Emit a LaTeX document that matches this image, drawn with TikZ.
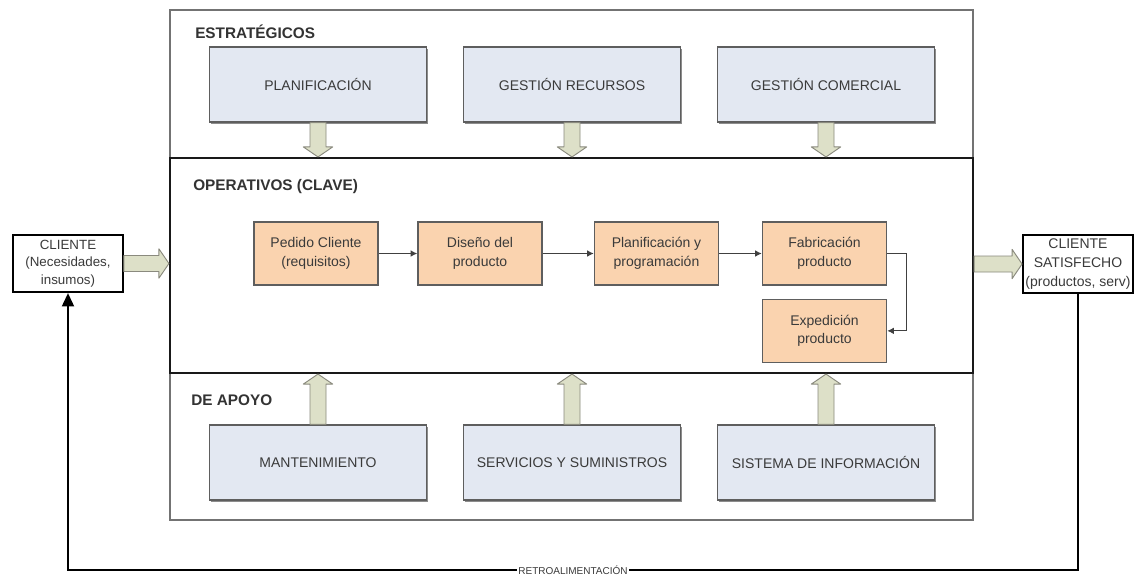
\documentclass[tikz,border=0pt]{standalone}
\usepackage{fontspec}
\setmainfont{Liberation Sans}
\usetikzlibrary{arrows.meta,positioning,calc,shadows}

\definecolor{bluefill}{HTML}{E3E8F2}
\definecolor{orangefill}{HTML}{FAD3AF}
\definecolor{arrfill}{HTML}{DDE0C8}
\definecolor{arrline}{HTML}{8A8A7E}
\definecolor{boxline}{HTML}{5E5E5E}
\definecolor{txtgray}{HTML}{3A3A3A}

\tikzset{
  panel/.style={draw=black!55, fill=white, line width=1.1pt, minimum width=602.25pt, minimum height=382.5pt,
    drop shadow={shadow xshift=1pt, shadow yshift=-1pt, fill=black!25, opacity=1}},
  operbox/.style={draw=black!90, line width=1.6pt, minimum width=602.25pt, minimum height=161.25pt},
  grouplabel/.style={anchor=west, inner sep=0pt, font=\bfseries\fontsize{11.5}{14}\selectfont, text=black!80},
  bluebox/.style={draw=boxline, fill=bluefill, line width=1pt, minimum width=162.75pt, minimum height=56.25pt,
    font=\fontsize{10.5}{13}\selectfont, text=txtgray,
    drop shadow={shadow xshift=1.2pt, shadow yshift=-1.2pt, fill=black!45, opacity=1}},
  stepbox/.style={draw=boxline, fill=orangefill, line width=1pt, minimum width=93pt, minimum height=47.25pt,
    align=center, font=\fontsize{10.5}{14}\selectfont, text=txtgray},
  clibox/.style={draw=black, fill=white, line width=1.4pt, minimum width=82.5pt, minimum height=43pt,
    inner sep=0pt, align=center, font=\fontsize{10}{13}\selectfont, text=txtgray},
  flow/.style={draw=black!75, line width=0.9pt, -{Latex[length=5pt,width=5pt]}},
  retro/.style={draw=black, line width=1.4pt},
  blockarrow/.style={draw=arrline, fill=arrfill, line width=0.7pt, line join=round,
    to path={let \p1=(\tikztostart), \p2=(\tikztotarget),
      \n1={atan2(\y2-\y1,\x2-\x1)}, \n2={veclen(\x2-\x1,\y2-\y1)-7.5pt} in
      ($(\p1)+(\n1+90:6pt)$) -- ++(\n1:\n2) -- ++(\n1+90:5pt) -- (\p2)
      -- ($(\p1)+(\n1:\n2)+(\n1-90:11pt)$) -- ++(\n1+90:5pt)
      -- ($(\p1)+(\n1-90:6pt)$) -- cycle}},
}

\begin{document}
\begin{tikzpicture}[x=0.75pt, y=-0.75pt]
\useasboundingbox[fill=white] (0,0) rectangle (1135,587);

% frame and key processes band
\node[panel] (panel) at (571.5,265) {};
\node[operbox] (oper) at (571.5,265.5) {};

\node[grouplabel] (lstrat) at (195,32) {ESTRATÉGICOS};
\node[grouplabel] (loper) at (193,187) {OPERATIVOS (CLAVE)};
\node[grouplabel] (lapoyo) at (191,400) {DE APOYO};

% strategic
\node[bluebox] (plan) at (318,84.5) {PLANIFICACIÓN};
\node[bluebox] (recur) at (572,84.5) {GESTIÓN RECURSOS};
\node[bluebox] (comer) at (826,84.5) {GESTIÓN COMERCIAL};

% support
\node[bluebox] (mant) at (318,462.5) {MANTENIMIENTO};
\node[bluebox] (serv) at (572,462.5) {SERVICIOS Y SUMINISTROS};
\node[bluebox] (sinfo) at (826,462.5) {SISTEMA DE INFORMACIÓN};

% key processes
\node[stepbox] (pedido) at (316,253.5) {Pedido Cliente\\(requisitos)};
\node[stepbox] (diseno) at (480,253.5) {Diseño del\\producto};
\node[stepbox] (progr) at (656.5,253.5) {Planificación y\\programación};
\node[stepbox] (fabr) at (824.5,253.5) {Fabricación\\producto};
\node[stepbox, below=9.75pt of fabr] (exped) {Expedición\\producto};

\foreach \a/\b in {pedido/diseno,diseno/progr,progr/fabr}
  \draw[flow] (\a) -- (\b);
\draw[flow] (fabr.east) -- ++(19,0) |- (exped.east);

% clients
\node[clibox] (cli) at (68,263.5) {CLIENTE\\(Necesidades,\\insumos)};
\node[clibox, font=\fontsize{10.5}{14}\selectfont] (sat) at (1078,264) {CLIENTE\\SATISFECHO\\(productos, serv)};

% block arrows
\foreach \b in {plan,recur,comer}
  \draw[blockarrow] (\b.south) to (\b.south |- oper.north);
\foreach \b in {mant,serv,sinfo}
  \draw[blockarrow] (\b.north) to (\b.north |- oper.south);
\draw[blockarrow] (cli.east) to (cli.east -| oper.west);
\draw[blockarrow] (sat.west -| oper.east) to (sat.west);

% feedback
\coordinate (fbR) at (sat.south |- 0,570);
\coordinate (fbL) at (cli.south |- 0,570);
\draw[retro, -{Triangle[width=9pt,length=10pt]}] (sat.south) -- (fbR)
  -- node[fill=white, inner sep=1pt, font=\fontsize{7.5}{9}\selectfont, text=txtgray] (lretro) {RETROALIMENTACIÓN} (fbL)
  -- (cli.south);
\end{tikzpicture}
\end{document}
